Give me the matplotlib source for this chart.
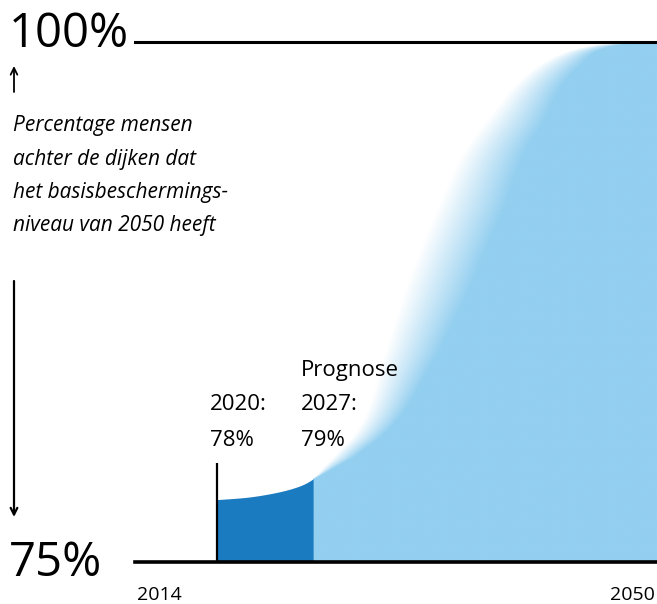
import numpy as np
import matplotlib
matplotlib.use("Agg")
import matplotlib.pyplot as plt

plt.rcParams['font.family'] = ['Open Sans', 'DejaVu Sans']

# curve: percentage of people behind the dikes with the 2050 protection level
years = [2020, 2022, 2024, 2026, 2027, 2028, 2029, 2030, 2031, 2032, 2033,
         2034, 2036, 2038, 2040, 2042, 2044, 2046, 2048, 2050]
pct = [78.0, 78.1, 78.3, 78.65, 79.0, 79.7, 80.4, 81.1, 82.3, 84.5, 86.6,
       88.6, 91.9, 94.7, 96.5, 98.1, 99.1, 99.65, 99.9, 100.0]
year_measured = 2020
year_forecast = 2027
x_labels = ['2014', '2050']

dark_blue = '#1b7bc0'
light_blue = '#93cff0'


def pchip(x, y, xn):
    # monotone cubic curve through the read points (only for drawing)
    x = np.asarray(x, float)
    y = np.asarray(y, float)
    h = np.diff(x)
    d = np.diff(y) / h
    m = np.zeros_like(y)
    for k in range(1, len(x) - 1):
        if d[k - 1] * d[k] > 0:
            w1 = 2 * h[k] + h[k - 1]
            w2 = h[k] + 2 * h[k - 1]
            m[k] = (w1 + w2) / (w1 / d[k - 1] + w2 / d[k])
    m[0], m[-1] = d[0], d[-1]
    i = np.clip(np.searchsorted(x, xn) - 1, 0, len(x) - 2)
    t = (xn - x[i]) / h[i]
    h00 = 2 * t**3 - 3 * t**2 + 1
    h10 = t**3 - 2 * t**2 + t
    h01 = -2 * t**3 + 3 * t**2
    h11 = t**3 - t**2
    return h00 * y[i] + h10 * h[i] * m[i] + h01 * y[i + 1] + h11 * h[i] * m[i + 1]


W, H = 657, 604
fig = plt.figure(figsize=(W / 100, H / 100), dpi=100)
ax = fig.add_axes([135 / W, (H - 562) / H, (W - 135) / W, 520 / H])
ax.set_xlim(2014, 2052.1)
ax.set_ylim(75, 100)
ax.axis('off')

# measured part (2020 - 2027), solid dark blue
xs = np.linspace(year_measured, year_forecast, 200)
ax.fill_between(xs, 75, pchip(years, pct, xs), color=dark_blue, lw=0, zorder=2)

# forecast part, light blue with a soft white fade on the left edge
x0, x1 = year_forecast, ax.get_xlim()[1]
xf = np.linspace(year_forecast, years[-1], 2000)
yf = np.maximum.accumulate(pchip(years, pct, xf))
nx, ny = 800, 700
gx = np.linspace(x0, x1, nx)
gy = np.linspace(75, 100, ny)
edge = np.interp(gy, yf, xf)
edge[gy < yf[0]] = -1e9
# fade width (years) along the height of the curve
fade = np.interp(gy, [79, 80, 82, 85, 88, 92, 96, 99, 100],
                 [0.05, 1.5, 2.6, 3.9, 4.7, 4.9, 4.3, 3.0, 1.5])
alpha = np.clip((gx[None, :] - edge[:, None]) / fade[:, None], 0, 1)
rgba = np.zeros((ny, nx, 4))
rgba[..., :3] = matplotlib.colors.to_rgb(light_blue)
rgba[..., 3] = alpha
ax.imshow(rgba, extent=[x0, x1, 75, 100], origin='lower', aspect='auto',
          interpolation='bilinear', zorder=1)

# frame lines
ax.axhline(75, color='black', lw=2.6, zorder=4, clip_on=False)
ax.axhline(100, color='black', lw=2.2, zorder=4, clip_on=False)
ax.vlines(year_measured, 75, 79.75, color='black', lw=1.6, zorder=4)


# texts
def ftext(x, y, s, **kw):
    fig.text(x / W, 1 - y / H, s, **kw)


ftext(9, 47, '100%', fontsize=34, va='baseline')
ftext(9, 576, '75%', fontsize=34, va='baseline')
desc = ['Percentage mensen', 'achter de dijken dat',
        'het basisbeschermings-', 'niveau van 2050 heeft']
for i, line in enumerate(desc):
    ftext(13, 131 + i * 33.5, line, fontsize=15, style='italic', va='baseline')

ftext(210, 410, '2020:', fontsize=16, va='baseline')
ftext(210, 446, '78%', fontsize=16, va='baseline')
ftext(301, 376, 'Prognose', fontsize=16, va='baseline')
ftext(301, 410, '2027:', fontsize=16, va='baseline')
ftext(301, 446, '79%', fontsize=16, va='baseline')

ftext(137, 600, x_labels[0], fontsize=14, va='baseline', ha='left')
ftext(655, 600, x_labels[1], fontsize=14, va='baseline', ha='right')

# arrows at the left
ax.annotate('', xy=(14 / W, 1 - 66 / H), xytext=(14 / W, 1 - 92 / H),
            xycoords='figure fraction', annotation_clip=False,
            arrowprops=dict(arrowstyle='->', lw=1.3, color='black',
                            shrinkA=0, shrinkB=0, mutation_scale=12))
ax.annotate('', xy=(14 / W, 1 - 517 / H), xytext=(14 / W, 1 - 281 / H),
            xycoords='figure fraction', annotation_clip=False,
            arrowprops=dict(arrowstyle='->', lw=1.6, color='black',
                            shrinkA=0, shrinkB=0, mutation_scale=12))

fig.savefig('out.png', dpi=100)
